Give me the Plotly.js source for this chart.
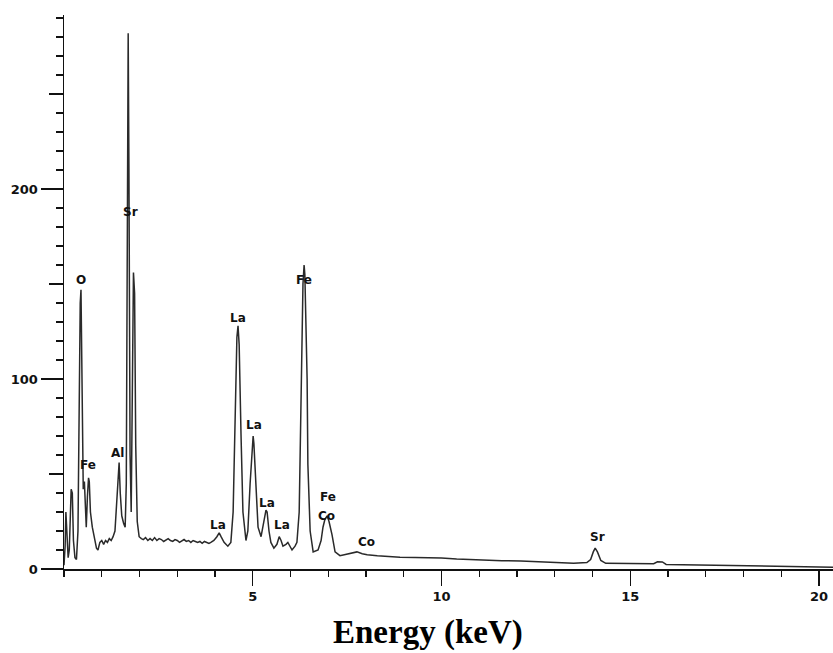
<!DOCTYPE html>
<html><head><meta charset="utf-8">
<script src="https://cdn.plot.ly/plotly-3.0.1.min.js"></script>
<style>html,body{margin:0;padding:0;background:#fff}</style>
</head><body>
<div id="chart" style="width:833px;height:653px"></div>
<script>
const energy = [0.00,0.03,0.05,0.08,0.11,0.14,0.17,0.19,0.22,0.25,0.29,0.33,0.37,0.40,0.43,0.45,0.47,0.49,0.51,0.54,0.57,0.59,0.62,0.65,0.67,0.70,0.75,0.80,0.86,0.90,0.95,1.00,1.05,1.10,1.15,1.20,1.25,1.30,1.35,1.39,1.43,1.46,1.49,1.53,1.58,1.62,1.65,1.68,1.70,1.72,1.75,1.78,1.81,1.84,1.87,1.90,1.94,1.99,2.05,2.10,2.16,2.22,2.28,2.34,2.40,2.46,2.52,2.58,2.64,2.70,2.76,2.82,2.88,2.94,3.00,3.06,3.12,3.18,3.24,3.30,3.36,3.42,3.48,3.54,3.60,3.66,3.72,3.78,3.84,3.89,3.97,4.05,4.11,4.16,4.24,4.34,4.42,4.48,4.53,4.58,4.61,4.64,4.69,4.74,4.82,4.87,4.93,4.95,4.98,5.01,5.03,5.06,5.11,5.14,5.22,5.27,5.30,5.35,5.38,5.43,5.48,5.56,5.64,5.70,5.75,5.80,5.88,5.93,6.04,6.12,6.17,6.23,6.28,6.33,6.36,6.38,6.44,6.46,6.52,6.60,6.73,6.81,6.86,6.91,6.97,7.02,7.10,7.18,7.31,7.45,7.58,7.76,7.90,8.03,8.30,8.60,8.90,9.30,9.70,10.00,10.40,10.80,11.20,11.60,12.10,12.60,13.10,13.50,13.85,13.95,14.02,14.07,14.13,14.22,14.35,14.80,15.30,15.62,15.72,15.85,15.95,16.50,17.00,17.50,18.00,18.50,19.00,19.50,20.00,20.37];
const counts = [2,12,30,14,6,10,30,42,40,15,6,5,20,85,140,147,110,60,42,46,30,22,38,48,46,30,22,17,11,10,14,15,13,15,14,16,15,17,20,33,50,56,40,28,24,22,45,210,282,210,60,30,95,156,145,65,25,17,16,15.5,16.5,15,16,15,16.5,15,16,15.5,14.5,15.5,16,15,14.5,15.5,15,14,15,15.5,14.5,15,14,15,14.5,14,14.5,13.5,14.5,14,13.5,14,15,17,19,17,14,12,14,30,80,122,128,118,70,30,15,20,45,50,62,70,66,54,35,22,17,22,26,31,30,20,14,11,13,17,15,12,13,14,10,12,14,30,90,150,160,155,100,55,20,9,10,15,22,26,28,25,18,9,7,7.5,8,9,8,7.5,7,6.5,6.2,6,6,5.8,5.3,4.9,4.6,4.4,4.2,3.8,3.3,3.0,3.4,5,9,11,9,4.5,3,2.8,2.6,2.8,3.8,3.7,2.4,2.2,2.0,1.9,1.8,1.6,1.3,1.0,1.0,0.9];

const peakLabels = ['O','Fe','Al','Sr','La','La','La','La','La','Fe','Fe','Co','Co','Sr'];
const peakLabelX = [0.45,0.64,1.43,1.77,4.61,5.03,5.37,4.08,5.78,6.37,7.00,6.94,8.00,14.12];
const peakLabelY = [152,55,61,188,132,76,35,23,23,152,38,28,14,17];

const xTickVals = [5,10,15,20];
const yTickVals = [0,100,200];
const yMidTickVals = [50,150,250];
const xTitle = 'Energy (keV)';

const tickFont = {family:'DejaVu Sans', size:13, color:'#111', weight:'bold'};

const traces = [
  {x: energy, y: counts, type:'scatter', mode:'lines',
   line:{color:'#2a2a2a', width:1.5}, hoverinfo:'skip', showlegend:false},
  {x: [], y: [], type:'scatter', mode:'lines', yaxis:'y2', showlegend:false, hoverinfo:'skip'}
];

const annotations = peakLabels.map((t,i)=>({
  x: peakLabelX[i], y: peakLabelY[i], xref:'x', yref:'y', text: t, showarrow:false,
  xanchor:'center', yanchor:'middle',
  font:{family:'DejaVu Sans', size:12, color:'#111', weight:'bold'}
}));
annotations.push({
  xref:'paper', yref:'paper', x:0.473, y:-0.114, xanchor:'center', yanchor:'middle',
  text:'<b>'+xTitle+'</b>', showarrow:false,
  font:{family:'Liberation Serif', size:33, color:'#000'}
});

const layout = {
  width:833, height:653,
  margin:{l:64, r:0, t:15, b:84},
  paper_bgcolor:'#fff', plot_bgcolor:'#fff',
  showlegend:false,
  xaxis:{
    range:[0,20.37], showgrid:false, zeroline:false,
    showline:true, linecolor:'#111', linewidth:1.5,
    tickmode:'array', tickvals:xTickVals, ticktext:xTickVals.map(String),
    ticks:'outside', ticklen:15, tickwidth:1.3, tickcolor:'#111',
    tickfont: tickFont,
    minor:{dtick:1, tick0:0, ticks:'outside', ticklen:6, tickwidth:1.2, tickcolor:'#111', showgrid:false}
  },
  yaxis:{
    range:[0,291.6], showgrid:false, zeroline:false,
    showline:true, linecolor:'#111', linewidth:1.5,
    tickmode:'array', tickvals:yTickVals, ticktext:yTickVals.map(String),
    ticks:'outside', ticklen:22, tickwidth:1.3, tickcolor:'#111',
    tickfont: tickFont,
    minor:{dtick:10, tick0:0, ticks:'outside', ticklen:7, tickwidth:1.2, tickcolor:'#111', showgrid:false}
  },
  yaxis2:{
    overlaying:'y', side:'left', range:[0,291.6], showgrid:false, zeroline:false,
    showline:false, tickmode:'array', tickvals:yMidTickVals, showticklabels:false,
    ticks:'outside', ticklen:14, tickwidth:1.2, tickcolor:'#111'
  },
  annotations: annotations
};

Plotly.newPlot('chart', traces, layout, {staticPlot:true, displayModeBar:false});
</script>
</body></html>
